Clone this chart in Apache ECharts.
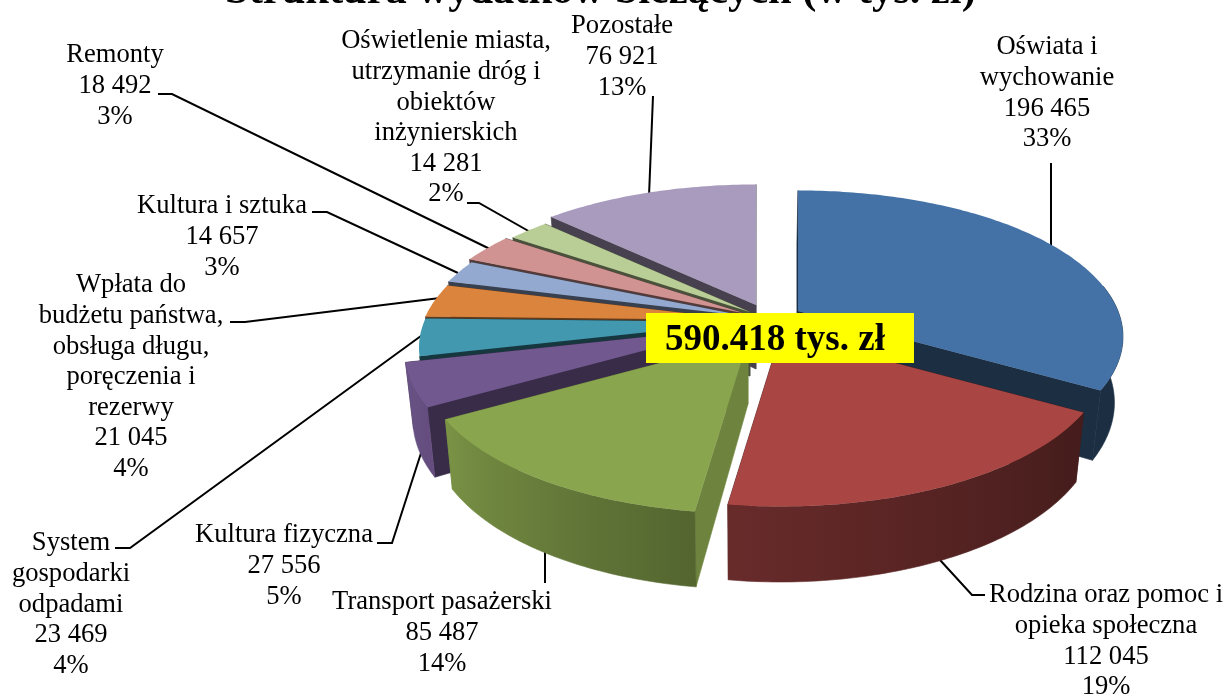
<!DOCTYPE html>
<html>
<head>
<meta charset="utf-8">
<title>Struktura wydatków bieżących</title>
<style>
  html, body { margin: 0; padding: 0; background: #fff; }
  #chart { width: 1224px; height: 695px; }
</style>
<script src="https://cdn.jsdelivr.net/npm/echarts@6/dist/echarts.min.js"></script>
</head>
<body>
<div id="chart"></div>
<script>
// dane
var categories = [
  ['Oświata i', 'wychowanie'],
  ['Rodzina oraz pomoc i', 'opieka społeczna'],
  ['Transport pasażerski'],
  ['Kultura fizyczna'],
  ['System', 'gospodarki', 'odpadami'],
  ['Wpłata do', 'budżetu państwa,', 'obsługa długu,', 'poręczenia i', 'rezerwy'],
  ['Kultura i sztuka'],
  ['Remonty'],
  ['Oświetlenie miasta,', 'utrzymanie dróg i', 'obiektów', 'inżynierskich'],
  ['Pozostałe']
]
var values = [196465, 112045, 85487, 27556, 23469, 21045, 14657, 18492, 14281, 76921]
var percents = ['33%', '19%', '14%', '5%', '4%', '4%', '3%', '3%', '2%', '13%']
var totalLabel = '590.418 tys. zł'
var titleText = 'Struktura wydatków bieżących (w tys. zł)'

// wygląd
var colors = ['#4472A6', '#A94644', '#89A54E', '#71588F', '#4198AF', '#DB843D', '#93A9CF', '#D19392', '#B9CD96', '#A99BBD']
var edgeShade = [0.4, 0.4, 0.8, 0.5, 0.36, 0.45, 0.38, 0.4, 0.4, 0.42]
var explode = [[53, -9], [36, 13], [3, 20], [-15, 8], [-1, 2], [-1, 0], [0, -4], [-2, -7], [5, -8], [11, -15]]
var paintOrder = [9, 0, 8, 7, 6, 5, 4, 3, 1, 2]
var labelX = [1047, 1106, 442, 284, 71, 131, 222, 115, 446, 622]
var labelY = [46, 594, 601, 534, 542, 284, 205, 54, 40, 25]
var leaders = [
  [[1051, 163], [1051, 250]],
  [[985, 595], [972, 595], [940, 560]],
  [[545, 583], [545, 545]],
  [[377, 543], [392, 543], [422, 450]],
  [[115, 548], [130, 548], [425, 333]],
  [[230, 322], [245, 322], [440, 298]],
  [[312, 212], [327, 212], [458, 273]],
  [[158, 94], [172, 94], [492, 250]],
  [[467, 203], [479, 203], [532, 233]],
  [[653, 96], [649, 196]]
]

var center = [745, 320]
var radiusX = 320
var radiusY = 147
var perspective = 0.18
var depth = 64
var vanishX = 750
var shrink = 0.977
// sciana boczna widoczna tylko z przodu tortu
var wallFrom = 80
var wallTo = 257

var total = values.reduce(function (a, b) { return a + b }, 0)
var angles = []
var acc = 0
values.forEach(function (v) {
  angles.push([acc / total * 360, (acc + v) / total * 360])
  acc += v
})

function shadeAt(deg) {
  var table = [[0, 0.4], [120, 0.4], [188, 0.61], [240, 0.89], [260, 0.95], [360, 0.95]]
  for (var i = 1; i < table.length; i++) {
    if (deg <= table[i][0]) {
      var t = (deg - table[i - 1][0]) / (table[i][0] - table[i - 1][0])
      return table[i - 1][1] + (table[i][1] - table[i - 1][1]) * t
    }
  }
  return 0.95
}

function shade(hex, f) {
  var n = parseInt(hex.slice(1), 16)
  var r = Math.round((n >> 16 & 255) * f)
  var g = Math.round((n >> 8 & 255) * f)
  var b = Math.round((n & 255) * f)
  return 'rgb(' + r + ',' + g + ',' + b + ')'
}

function apexOf(i) {
  return [center[0] + explode[i][0], center[1] + explode[i][1]]
}

function project(i, deg) {
  var a = deg * Math.PI / 180
  var u = Math.sin(a)
  var v = -Math.cos(a)
  var s = 1 + perspective * v
  var apex = apexOf(i)
  return [apex[0] + radiusX * u * s, apex[1] + radiusY * v * s, s]
}

function lower(p, s) {
  return [vanishX + (p[0] - vanishX) * shrink, p[1] + depth * s]
}

function arcPoints(i, from, to) {
  var top = []
  var low = []
  var steps = Math.max(2, Math.ceil(to - from))
  for (var k = 0; k <= steps; k++) {
    var p = project(i, from + (to - from) * k / steps)
    top.push([p[0], p[1]])
    low.push(lower(p, p[2]))
  }
  return { top: top, low: low }
}

function renderSlice(params, api) {
  var i = api.value(0)
  var start = angles[i][0]
  var end = angles[i][1]
  var apex = apexOf(i)
  var apexLow = lower(apex, 1)
  var arc = arcPoints(i, start, end)
  var n = arc.top.length - 1
  var edge = shade(colors[i], edgeShade[i])
  var children = [
    { type: 'polygon', shape: { points: [apex, arc.top[0], arc.low[0], apexLow] }, style: { fill: edge, stroke: edge, lineWidth: 0.6 } },
    { type: 'polygon', shape: { points: [apex, arc.top[n], arc.low[n], apexLow] }, style: { fill: edge, stroke: edge, lineWidth: 0.6 } }
  ]

  var wallStart = Math.max(start, wallFrom)
  var wallEnd = Math.min(end, wallTo)
  if (wallEnd > wallStart) {
    var wall = arcPoints(i, wallStart, wallEnd)
    var xs = wall.top.concat(wall.low).map(function (p) { return p[0] })
    var minX = Math.min.apply(null, xs)
    var maxX = Math.max.apply(null, xs)
    // gradient sciany bocznej wg kata
    var stops = []
    for (var j = 0; j <= 8; j++) {
      var d = wallStart + (wallEnd - wallStart) * j / 8
      var q = project(i, d)
      stops.push({ offset: Math.min(1, Math.max(0, (q[0] - minX) / (maxX - minX))), color: shade(colors[i], shadeAt(d)) })
    }
    stops.sort(function (a, b) { return a.offset - b.offset })
    var grad = new echarts.graphic.LinearGradient(0, 0, 1, 0, stops)
    children.push({
      type: 'polygon',
      shape: { points: wall.top.concat(wall.low.slice().reverse()) },
      style: { fill: grad, stroke: grad, lineWidth: 0.6 }
    })
  }
  children.push({ type: 'polygon', shape: { points: [apex].concat(arc.top) }, style: { fill: colors[i] } })
  return { type: 'group', children: children }
}

function formatValue(v) {
  return String(v).replace(/\B(?=(\d{3})+$)/g, ' ')
}

var lineHeight = 30.6
var graphics = []
categories.forEach(function (lines, i) {
  graphics.push({
    type: 'text',
    z: 20,
    style: {
      text: lines.concat([formatValue(values[i]), percents[i]]).join('\n'),
      x: labelX[i],
      y: labelY[i] - lineHeight / 2 + 1.5,
      textAlign: 'center',
      textVerticalAlign: 'top',
      font: '26.6px "Liberation Serif"',
      lineHeight: lineHeight,
      fill: '#000'
    }
  })
  graphics.push({
    type: 'polyline',
    z: 1,
    shape: { points: leaders[i] },
    style: { stroke: '#000', lineWidth: 2, fill: null }
  })
})
graphics.push({
  type: 'rect',
  z: 30,
  shape: { x: 646, y: 313, width: 268, height: 50 },
  style: { fill: '#FFFF00' }
})
graphics.push({
  type: 'text',
  z: 31,
  style: {
    text: totalLabel,
    x: 665,
    y: 340,
    textVerticalAlign: 'middle',
    font: 'bold 37px "Liberation Serif"',
    fill: '#000'
  }
})

var chart = echarts.init(document.getElementById('chart'))
chart.setOption({
  animation: false,
  backgroundColor: '#fff',
  title: {
    text: titleText,
    left: 225,
    top: -29.7,
    padding: 0,
    textStyle: { fontFamily: 'Liberation Serif', fontSize: 42.5, fontWeight: 'bold', color: '#000' }
  },
  graphic: graphics,
  series: [{
    type: 'custom',
    coordinateSystem: 'none',
    z: 5,
    silent: true,
    renderItem: renderSlice,
    data: paintOrder.map(function (i) { return [i] })
  }]
})
</script>
</body>
</html>
